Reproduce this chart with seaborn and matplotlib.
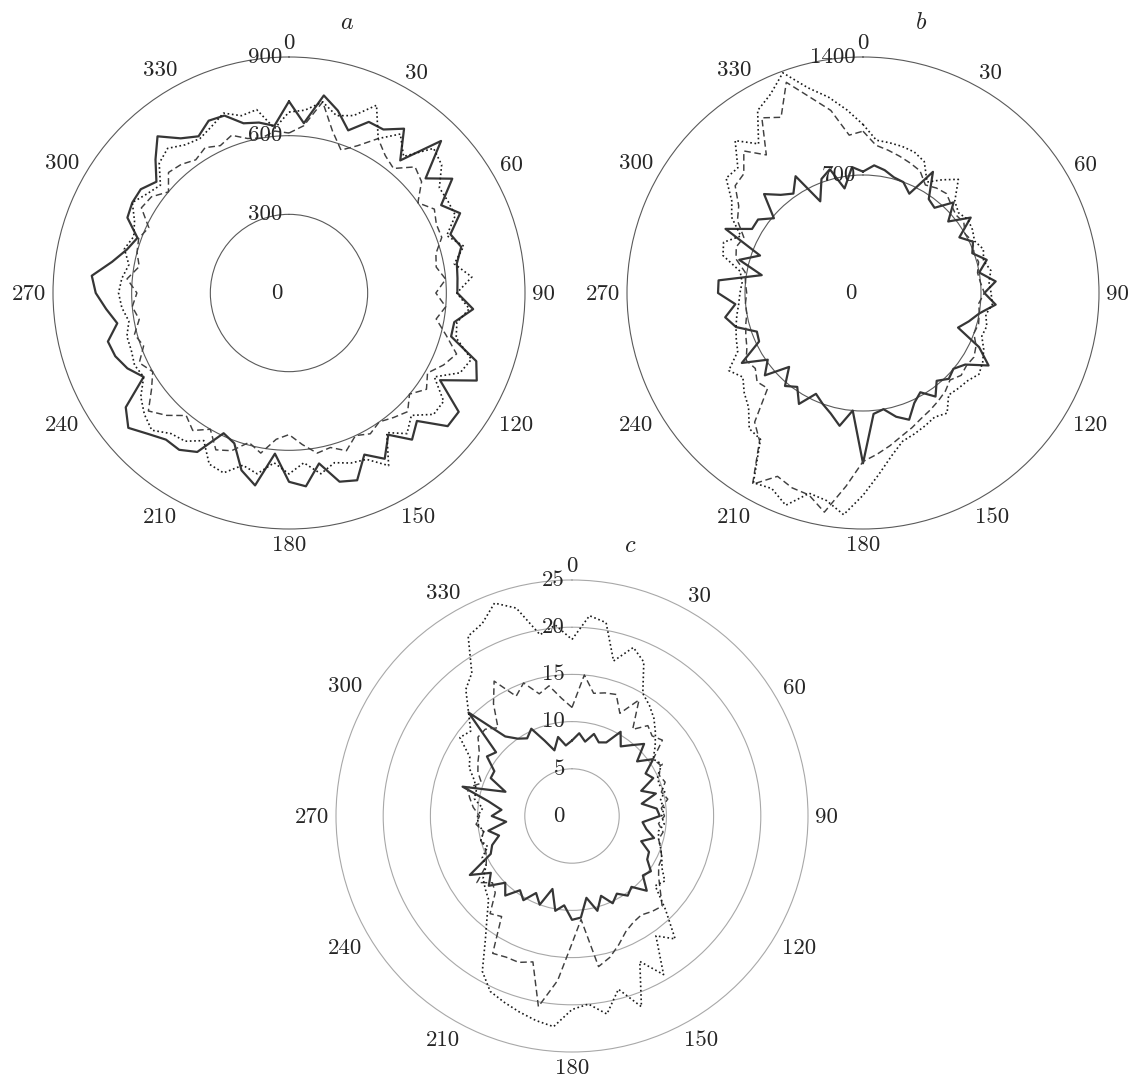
import numpy as np
import matplotlib
matplotlib.use("Agg")
import matplotlib.pyplot as plt
import seaborn as sns

# ---------------- data ----------------
ANGLES = list(range(0, 360, 5))   # degrees, clockwise from top

a_solid = [731, 650, 765, 720, 660, 720, 720, 765, 660, 820, 680, 760,
           670, 720, 655, 680, 650, 645, 642, 705, 640, 640, 760, 790,
           665, 790, 790, 690, 730, 660, 730, 680, 760, 745, 660, 740,
           720, 615, 745, 700, 610, 590, 700, 730, 730, 760, 800, 760,
           640, 680, 705, 715, 665, 700, 737, 755, 685, 640, 615, 680,
           690, 690, 660, 720, 780, 720, 690, 725, 720, 670, 660, 640]
a_dashed = [610, 640, 740, 640, 580, 620, 680, 640, 620, 680, 660, 600,
            640, 620, 620, 580, 570, 600, 560, 600, 570, 620, 680, 650,
            610, 640, 600, 640, 620, 600, 620, 600, 640, 610, 620, 580,
            540, 560, 620, 590, 640, 660, 600, 640, 610, 660, 700, 640,
            600, 630, 590, 610, 580, 600, 580, 620, 580, 600, 610, 590,
            650, 640, 600, 650, 640, 620, 640, 620, 640, 610, 600, 620]
a_dotted = [690, 700, 740, 700, 720, 790, 680, 740, 680, 780, 760, 700,
            700, 700, 640, 690, 640, 700, 640, 690, 650, 660, 740, 720,
            640, 720, 720, 660, 700, 650, 760, 700, 690, 670, 700, 650,
            690, 650, 700, 680, 730, 720, 650, 690, 700, 740, 720, 690,
            640, 650, 640, 640, 620, 640, 650, 640, 620, 650, 630, 650,
            690, 660, 640, 700, 720, 690, 680, 700, 730, 700, 710, 630]

b_solid = [720, 760, 740, 710, 700, 650, 830, 680, 660, 760, 660, 780,
           660, 720, 690, 760, 700, 790, 720, 790, 700, 650, 600, 760,
           860, 740, 700, 720, 680, 750, 680, 720, 800, 760, 700, 720,
           1010, 700, 800, 740, 700, 660, 760, 680, 720, 620, 760, 690,
           830, 680, 670, 780, 830, 760, 860, 860, 610, 760, 650, 900,
           760, 760, 690, 830, 760, 720, 800, 600, 720, 760, 630, 750]
b_dashed = [960, 880, 860, 840, 820, 800, 740, 760, 770, 740, 720, 730,
            700, 720, 700, 710, 690, 700, 720, 690, 700, 710, 700, 740,
            760, 750, 760, 730, 760, 780, 800, 820, 850, 880, 920, 960,
            1000, 1150, 1320, 1240, 1230, 1200, 1310, 1070, 1000, 800, 820, 780,
            800, 760, 740, 720, 700, 700, 690, 700, 710, 780, 800, 780,
            860, 900, 990, 1000, 1100, 1000, 1200, 1150, 1330, 1200, 1100, 940]
b_dotted = [1000, 910, 905, 900, 890, 860, 760, 820, 880, 770, 740, 760,
            750, 730, 760, 740, 770, 750, 760, 770, 740, 760, 750, 790,
            820, 840, 810, 800, 790, 870, 850, 870, 890, 910, 980, 1080,
            1200, 1320, 1250, 1230, 1340, 1280, 1300, 1060, 1050, 960, 920, 870,
            920, 820, 800, 780, 760, 740, 730, 720, 740, 860, 880, 800,
            900, 950, 1060, 1050, 1180, 1080, 1250, 1300, 1390, 1260, 1180, 1090]

c_solid = [8.0, 8.8, 8.0, 9.0, 8.3, 8.6, 10.3, 9.0, 9.8, 10.8, 9.0, 10.5,
           9.0, 9.5, 7.8, 9.2, 7.5, 9.0, 9.3, 7.5, 8.0, 9.0, 7.8, 9.0,
           9.2, 10.2, 9.8, 11.2, 9.8, 10.3, 9.5, 10.2, 9.0, 10.4, 8.8, 10.8,
           11.0, 9.5, 10.2, 8.0, 10.0, 9.0, 10.3, 9.6, 11.0, 10.0, 11.5, 10.5,
           12.5, 9.5, 9.0, 8.0, 9.0, 7.0, 8.5, 7.5, 9.0, 12.0, 7.5, 9.5,
           9.5, 11.0, 10.5, 15.5, 11.0, 10.0, 9.5, 10.2, 8.5, 7.2, 8.5, 7.5]
c_dashed = [11.5, 15.0, 13.2, 13.5, 13.7, 12.0, 14.2, 11.2, 12.5, 12.0, 12.5, 10.5,
            10.8, 10.2, 10.5, 9.8, 10.3, 9.5, 9.8, 9.2, 9.8, 9.5, 10.0, 10.5,
            10.6, 11.2, 12.2, 13.5, 13.2, 12.8, 13.0, 13.5, 14.5, 15.5, 16.2, 11.0,
            13.5, 17.5, 20.5, 16.0, 16.5, 16.5, 16.8, 13.0, 13.5, 11.5, 11.0, 12.3,
            10.5, 10.0, 9.8, 10.0, 9.5, 10.2, 9.8, 10.5, 11.0, 11.5, 10.2, 11.0,
            11.5, 12.0, 13.0, 13.0, 12.2, 14.5, 16.5, 14.0, 15.0, 13.4, 14.0, 12.5]
c_dotted = [18.7, 21.3, 20.8, 17.0, 19.0, 18.0, 15.0, 14.3, 13.5, 12.5, 11.5, 10.5,
            11.0, 10.0, 9.8, 10.2, 9.5, 9.8, 9.5, 9.8, 9.3, 9.5, 10.0, 10.5,
            11.0, 12.0, 11.5, 14.0, 17.0, 15.5, 19.4, 17.0, 21.5, 19.0, 21.3, 20.0,
            20.5, 22.4, 22.0, 21.5, 21.0, 20.5, 19.0, 16.0, 14.0, 12.5, 12.0, 11.5,
            10.5, 10.5, 9.5, 10.0, 9.5, 10.0, 10.0, 9.5, 10.5, 10.5, 11.0, 12.0,
            12.5, 14.5, 14.0, 15.5, 17.5, 18.5, 22.0, 22.5, 24.0, 22.8, 19.5, 20.3]

THETA_LABELS = [str(d) for d in range(0, 360, 30)]
A_RTICKS = [300, 600, 900]
B_RTICKS = [700, 1400]
C_RTICKS = [5, 10, 15, 20, 25]

# ---------------- style ----------------
sns.set_style("white")
plt.rcParams["font.family"] = ["cmr10", "DejaVu Serif"]
plt.rcParams["mathtext.fontset"] = "cm"
plt.rcParams["axes.unicode_minus"] = False

W, H = 1131, 1079
FS = 16.5
EM = FS * 100 / 72.0
R = 236

fig = plt.figure(figsize=(W / 100, H / 100), dpi=100)

STYLES = [
    dict(color="#363636", linewidth=1.6, linestyle="-"),
    dict(color="#404040", linewidth=1.05, linestyle=(0, (4.5, 2.5))),
    dict(color="#1a1a1a", linewidth=1.2, linestyle=(0, (1, 1.6))),
]


def panel(cx, cy, rmax, rticks, series, title, gcolor):
    ax = fig.add_axes([(cx - R) / W, (H - cy - R) / H, 2 * R / W, 2 * R / H],
                      projection="polar")
    ax.set_theta_zero_location("N")
    ax.set_theta_direction(-1)
    th = np.deg2rad(np.append(ANGLES, 360))
    for vals, st in zip(series, STYLES):
        r = np.append(vals, vals[0])
        sns.lineplot(x=th, y=r, ax=ax, sort=False, estimator=None, **st)
    ax.set_ylim(0, rmax)
    ax.set_yticks([t for t in rticks if t < rmax])
    ax.set_yticklabels([])
    ax.set_xticks([])
    ax.yaxis.grid(True, color=gcolor, linewidth=0.8)
    ax.spines["polar"].set_color(gcolor)
    ax.spines["polar"].set_linewidth(0.8)
    ax.set_xlabel("")
    ax.set_ylabel("")
    # radial labels (left of the vertical axis)
    dx = 7 / (2 * R)
    ax.text(0.5 - dx, 0.5, "0", transform=ax.transAxes, ha="right",
            va="center", fontsize=FS, clip_on=False)
    for t in rticks:
        ax.text(0.5 - dx, 0.5 + 0.5 * t / rmax, str(t), transform=ax.transAxes,
                ha="right", va="center", fontsize=FS, clip_on=False)
    # angle labels, edge anchored just outside the circle
    for lab in THETA_LABELS:
        a = np.deg2rad(int(lab))
        s, c = np.sin(a), np.cos(a)
        w = len(lab) * 0.5 * EM
        h = 0.68 * EM
        d = R + 7 + 0.5 * w * abs(s) + 0.5 * h * abs(c)
        ax.text(0.5 + d * s / (2 * R), 0.5 + d * c / (2 * R) - 1.0 / (2 * R), lab,
                transform=ax.transAxes, ha="center", va="center",
                fontsize=FS, clip_on=False)
    ax.text(0.5 + 58 / (2 * R), 0.5 + 270 / (2 * R), "$" + title + "$",
            transform=ax.transAxes, ha="center", va="center", fontsize=FS + 1,
            clip_on=False)
    return ax


panel(289, 293, 900, A_RTICKS, [a_solid, a_dashed, a_dotted], "a", "#5a5a5a")
panel(863, 293, 1400, B_RTICKS, [b_solid, b_dashed, b_dotted], "b", "#5a5a5a")
panel(572, 816, 25, C_RTICKS, [c_solid, c_dashed, c_dotted], "c", "#a8a8a8")

fig.savefig("out.png", dpi=100)
